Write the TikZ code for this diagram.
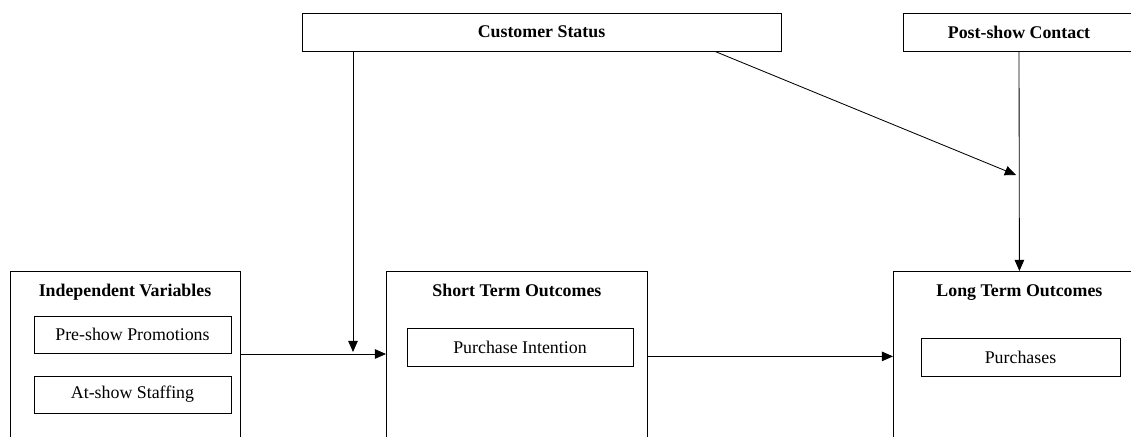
\documentclass[tikz,border=0pt]{standalone}
\usepackage{fontspec}
\setmainfont{Liberation Serif}
\usepackage{tikz}
\usetikzlibrary{arrows.meta,positioning}

\tikzset{
  group/.style={draw, line width=0.6pt, anchor=north west, inner sep=0pt},
  var/.style={draw, line width=0.6pt, minimum height=0.95cm, inner sep=0pt,
              font=\fontsize{12.7}{15}\selectfont},
  head/.style={font=\fontsize{12.7}{15}\selectfont\bfseries, inner sep=0pt, anchor=base},
}

\begin{document}
\begin{tikzpicture}[>={Triangle[length=0.28cm,width=0.24cm]}, line width=0.6pt]
   \clip (0,0) rectangle (28.275,10.9);
   % outer groups
   \node[group, minimum width=5.75cm, minimum height=5cm] (iv) at (0.25,4.125) {};
   \node[group, minimum width=6.525cm, minimum height=5cm] (st) at (9.65,4.125) {};
   \node[group, minimum width=6.3cm, minimum height=5cm] (lt) at (22.325,4.125) {};
   \node[head] (iv_t) at (3.125,3.5) {Independent Variables};
   \node[head] (st_t) at (st.north |- iv_t.base) {Short Term Outcomes};
   \node[head] (lt_t) at (lt.north |- iv_t.base) {Long Term Outcomes};
   % variables
   \node[var, minimum width=4.925cm, minimum height=0.925cm] (pre) at (3.3125,2.5375) {Pre-show Promotions};
   \node[var, minimum width=4.925cm, minimum height=0.925cm] (at) at (3.3125,1.0375) {At-show Staffing};
   \node[var, minimum width=5.65cm] (pi) at (13.0,2.225) {Purchase Intention};
   \node[var, minimum width=4.975cm] (pur) at (25.5125,1.975) {Purchases};
   % moderators
   \node[var, minimum width=11.975cm, font=\fontsize{12.7}{15}\selectfont\bfseries] (cs) at (13.5375,10.1) {Customer Status};
   \node[var, minimum width=5.8cm, font=\fontsize{12.7}{15}\selectfont\bfseries] (pc) at (25.475,10.1) {Post-show Contact};
   \coordinate (cs_end) at (8.825,2.1);
   \coordinate (pc_end) at (25.4,6.525);
    \path[->]
    (iv.east |- 0,2.05) edge (st.west |- 0,2.05)
    (st.east |- 0,1.99) edge (lt.west |- 0,1.99)
    (cs.south -| cs_end) edge (cs_end)
    (cs.south -| 17.875,0) edge (pc_end)
    (pc.south) edge (lt.north);
\end{tikzpicture}
\end{document}
